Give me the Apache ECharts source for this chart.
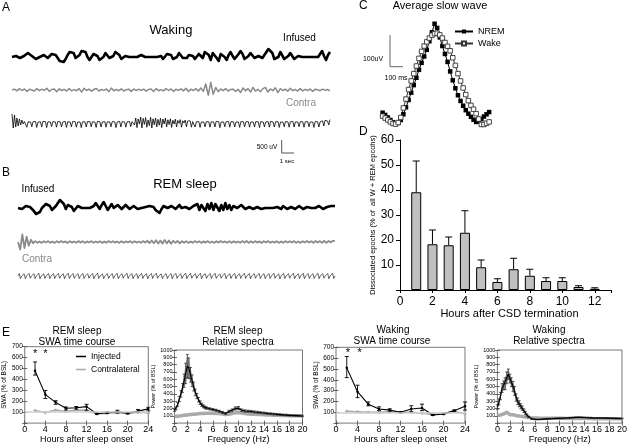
<!DOCTYPE html>
<html><head><meta charset="utf-8">
<script src="https://cdn.jsdelivr.net/npm/echarts@6/dist/echarts.min.js"></script>
<style>html,body{margin:0;padding:0;background:#fff}#c{width:630px;height:445px}</style>
</head><body><div id="c"></div>
<script>
// ---------- Panel A / B raw traces (arbitrary units) ----------
const wakeInfused = [0,0.5,1,0,-1,-1,1,3,4,3,1,-1,-2,-2,0,1,2,0,-1,1,3,4,2,-1,-4,-6,-5,-2,2,5,7,4,-1,-3,2,6,8,5,0,-3,-2,3,5,1,-3,-4,0,4,2,-1,-2,1,5,6,2,-2,-1,1,0,0,1,0,-1,0,1,2,1,0,-1,0,1,0,-1,0,2,1,-2,-1,3,5,2,-2,-3,0,4,3,-1,-3,-1,2,4,1,-2,0,3,1,-1,5,7,2,-3,4,6,-1,-4,3,5,0,-3,2,5,1,-2,0,3,6,3,-2,-4,1,4,2,-1,0,1,0,-1,2,5,8,9,4,-2,-4,0,5,3,-2,-4,1,4,2,-2,-3,1,3,0,-2,0,1,0,-1,0,1,0,3,6,1,-3,2,5];
const wakeContra = [0,0.5,-0.5,0.8,-0.3,0.6,-0.8,0.4,0,-0.6,0.8,-0.4,0.5,-0.2,1,-0.8,0.3,0.6,-1,0.7,-0.3,0.4,-0.6,0.9,-0.5,0.2,-0.4,0.8,-1.2,1,-0.3,0.5,-0.7,0.4,0.9,-0.6,0.3,-0.2,0.6,-0.9,1.1,-0.5,0.3,-0.4,0.7,-0.6,0.2,0.5,-0.8,0.6,-0.3,0.4,-0.2,0.5,-0.7,0.3,0.6,-0.9,0.8,-0.4,0.2,-0.5,0.9,-0.3,0.6,-0.8,0.4,-0.2,0.7,-0.5,1,-0.9,0.5,-0.3,0.8,-0.6,1.2,-0.8,3.5,-3,4.5,-2.5,1.5,-1,0.6,-0.4,0.8,-0.6,0.3,0.5,-0.8,0.4,-1.5,1.2,-0.5,0.8,-1.2,1.5,-0.6,0.4,-1,0.8,1.5,-1.2,0.6,-0.4,1.3,-1.5,0.8,-0.3,0.5,-0.7,1,-0.4,0.3,-0.6,0.8,-0.5,0.4,-0.3,0.6,-0.8,0.4,0.2,-0.4,0.5,-0.2,0.3,-0.5];
const wakeEmg = [4,-3,3.5,-2.5,2,-2,1.5,-1.5,1,-1,
0.2,0,-2.6,0.1,0.3,0,-2.4,0.2,0.1,0.2,-2.7,0,0.2,0.1,-2.5,0.3,0,0.2,-2.8,0.1,0.3,0,-2.3,0.2,0.1,0,-2.6,0.2,0.2,0.1,-2.5,0,0,0.3,-2.7,0.1,0.2,0,-2.4,0.2,0.1,0.2,-2.6,0,0.3,0,-2.8,0.1,0.2,0.1,-2.5,0.2,0,0.2,-2.4,0.1,0.2,0,-2.7,0.3,0.1,0.1,-2.5,0,0.3,0.2,-2.6,0.1,0,0,-2.4,0.2,0.2,0.1,-2.8,0,0.1,0.3,-2.5,0.2,0.2,0,-2.6,0.1,0,0.2,-2.3,0.2,
1.2,-1.5,2,-2.8,1.5,-1,2.5,-3,1.8,-1.2,2.2,-2.6,1,-1.8,2.4,-3,1.6,-1.4,2,-2.5,1.3,-1.6,1.8,-2.8,1.5,-1,2,-2.4,1.1,-1.3,1.6,-2.7,0.9,-1,1.4,-2.5,0.8,-0.7,1.2,-2.6,0.6,-0.5,1,-2.4,0.5,-0.4,0.6,-2.6,
0.2,0,-2.5,0.1,0.1,0.2,-2.7,0,0.3,0,-2.4,0.2,0,0.1,-2.6,0.1,0.2,0,-2.5,0.3,0.1,0.2,-2.8,0,0.2,0,-2.4,0.1,0,0.3,-2.6,0.2,0.2,0.1,-2.5,0,0.1,0,-2.7,0.2,0.3,0.1,-2.4,0.1,0,0.2,-2.6,0,0.2,0,-2.5,0.2,0.1,0.1,-2.8,0.1,0.2,0,-2.4,0,0,0.2,-2.6,0.3,0.3,0,-2.5,0.1,0.1,0.2,-2.7,0,0.2,0,-2.4,0.2,0,0.1,-2.6,0.1,0.2,0.3,-2.5,0,0.1,0,-2.3,0.2,0.3,0.1,-2.6,0.1,0,0.2,-2.4,0,0.2,0,-2.7,0.2,0.1,0.1,-2.5,0.1,0.4,0.6,-2,0.8,1,0.5,-1.5,1.2];
const remInfused = [0,1,-1,1,2,0,1,-1,-3,-6,-7,-4,0,2,4,5,2,-2,-1,2,5,8,9,4,-1,3,5,1,-3,-2,2,3,0,-1,0,1,0,-1,2,5,3,-1,3,6,2,-2,1,4,0,-2,3,4,-1,-2,3,1,-1,1,2,0,-1,1,0,-1,1,0,2,4,1,-2,-4,-5,-1,2,3,0,-2,2,3,-1,1,3,0,-1,1,0,-1,1,2,0,4,-2,3,5,-3,4,-1,5,-2,4,6,-3,3,-2,5,-1,3,-2,2,4,0,-1,3,1,-1,0,1,0,-1,0,1,0,-1,1,0,-1,0,1,0,-1,1,0,-1,2,1,-1,0,1,0,-1,1,2,0,-1,0,1,-1,0,1,0,-1,2,1,-1,0,1,0,2,1,2];
const remContra = [0,-5,5,-4,3.5,-2.5,1.5,-0.8,
0.6,-0.5,0.4,-0.6,0.5,-0.3,0.6,-0.5,0.3,-0.6,0.5,-0.4,0.6,-0.3,0.4,-0.6,0.5,-0.4,0.3,-0.5,0.6,-0.4,
0.5,-0.6,0.4,-0.3,0.6,-0.5,0.3,-0.4,0.5,-0.6,0.4,-0.5,0.6,-0.3,0.5,-0.4,0.3,-0.6,0.5,-0.5,
0.4,-0.3,0.6,-0.6,0.5,-0.4,0.3,-0.5,0.6,-0.4,0.8,-0.7,1,-0.8,1.2,-1,0.9,-1.1,1.3,-0.9,
1,-1.2,0.8,-0.6,0.7,-0.9,0.6,-0.5,0.5,-0.6,0.4,-0.5,0.6,-0.3,0.5,-0.6,0.4,-0.4,0.6,-0.5,
0.3,-0.6,0.5,-0.4,0.6,-0.3,0.4,-0.5,0.6,-0.6,0.5,-0.4,0.3,-0.5,0.6,-0.4,0.7,-0.6,0.5,-0.5,
0.6,-0.4,0.4,-0.6,0.5,-0.3,0.6,-0.5,0.3,-0.4,0.5,-0.6,0.4,-0.5,0.6,-0.3,0.5,-0.4,0.6,-0.5,
0.4,-0.6,0.5,-0.3,0.6,-0.4,0.5,-0.5,0.7,-0.4,0.6,-0.5,0.8,-0.6,0.7,-0.3,0.9,0.5];
const remEmg = [0.1,2,-2,0,0,1.8,-2.1,0.1,0.2,2.1,-1.8,0,0,1.9,-2,0.1,0.1,2.2,-2.2,0,0,1.7,-1.9,0.2,0.1,2,-2.1,0,0.2,1.9,-2,0.1,0,2.1,-1.8,0,0.1,1.8,-2.2,0.1,0,2.2,-2,0,0.2,2,-1.9,0.1,0,1.9,-2.1,0,0.1,2.1,-2,0.2,0,1.8,-1.8,0,0.1,2,-2.2,0.1,0.2,2.2,-2,0,0,1.7,-2.1,0.1,0.1,2,-1.9,0,0,1.9,-2,0.2,0.2,2.1,-2.2,0,0,1.8,-1.8,0.1,0.1,2.2,-2,0,0,2,-2.1,0.1,0.2,1.9,-1.9,0,0,2.1,-2,0.2,0.1,1.8,-2.2,0,0,2,-2,0.1,0.2,2.2,-1.8,0,0,1.7,-2.1,0.1,0.1,2,-2,0,0,1.9,-2.2,0.2,0.2,2.1,-1.9,0,0,1.8,-2,0.1,0.1,2.2,-2.1,0,0,2,-1.8,0.1,0.2,1.9,-2,0,0,2.1,-2.2,0.2,0.1,1.8,-1.9,0,0,2,-2.1,0.1,0.2,2.2,-2,0,0,1.7,-1.8,0.1,0.1,2,-2.2,0,0,1.9,-2,0.2,0.2,2.1,-2.1,0,0,1.8,-1.9,0.1,0.1,2.2,-2,0,0,2,-2.2,0.1,0.2,1.9,-1.8,0,0,2.1,-2,0.2,0.1,1.8,-2.1,0,0,2,-2,0.1,0.2,2.2,-1.9,0,0,1.7,-2.2,0.1,0.1,2,-2,0,0,1.9,-1.8,0.2,0.2,2.1,-2.1,0,0,1.8,-2,0.1,0.1,2.2,-2.2,0,0,2,-1.9,0.1,0.2,1.9,-2,0,0,2.1,-2.1,0.2,0.1,1.8,-1.8,0,0,2,-2.2,0.1,0.2,2.2,-2,0];

// ---------- Panel C: average slow wave (ms, uV) ----------
const slowT = [20,40,60,80,100,120,140,160,180,200,220,240,260,280,300,320,340,360,380,400,420,440,460,480,500,520,540,560,580,600,620,640,660,680,700,720,740,760,780,800,820,840];
const nremWave = [-135,-142,-150,-158,-165,-169,-167,-158,-140,-118,-95,-72,-48,-25,0,22,42,63,90,118,145,132,102,75,50,25,-5,-33,-58,-80,-98,-113,-127,-138,-148,-157,-164,-162,-155,-147,-140,-133];
const wakeWave = [-146,-152,-158,-164,-169,-171,-166,-150,-120,-92,-62,-35,-12,12,36,58,75,88,100,109,114,115,110,100,86,74,60,38,14,-12,-35,-57,-78,-97,-112,-124,-138,-155,-172,-172,-168,-164];

// ---------- Panel D ----------
const dHours = [1,2,3,4,5,6,7,8,9,10,11,12];
const dMeans = [39.1,18.3,17.9,22.9,9.1,3.2,8.3,5.7,3.6,3.6,1.2,0.5];
const dHi    = [51.6,24,21.2,31.7,12,4.5,12.7,8.3,4.9,4.9,1.7,0.9];
const dTicks = [0,2,4,6,8,10,12];

// ---------- Panel E: SWA time course ----------
const tcHours = [2,4,6,8,10,12,14,16,18,20,22,24];
const remInj   = [480,261,190,136,140,151,86,95,103,90,110,130];
const remInjLo = [440,225,172,120,128,118,82,88,92,85,100,112];
const remInjHi = [560,299,205,148,152,172,92,102,118,96,125,145];
const remCon   = [115,97,120,106,120,118,84,91,94,88,100,94];
const wakeInj   = [510,290,175,130,120,100,130,140,75,85,115,155];
const wakeInjLo = [420,235,160,115,110,95,105,115,70,80,108,120];
const wakeInjHi = [615,350,195,150,132,106,160,175,80,92,122,195];
const wakeCon   = [110,105,100,100,105,100,100,90,80,85,110,85];
const baseline = 100;
const remStars = [[2,635],[4,635]];
const wakeStars = [[2.2,652],[4.4,652]];

// ---------- Panel E: relative spectra ----------
const freqs = [0,0.25,0.5,0.75,1,1.25,1.5,1.75,2,2.25,2.5,2.75,3,3.25,3.5,3.75,4,4.25,4.5,4.75,5,5.5,6,6.5,7,7.5,8,8.5,9,9.5,10,10.5,11,11.5,12,12.5,13,13.5,14,14.5,15,15.5,16,16.5,17,17.5,18,18.5,19,19.5,20];
const remSpec = [175,200,255,330,400,480,580,680,780,750,660,580,500,420,370,320,280,250,230,215,205,195,185,175,162,145,132,160,175,200,205,175,165,162,158,152,148,142,138,132,128,124,120,116,112,109,106,104,102,100,98];
const remSpecErr = [15,20,25,35,45,60,90,140,160,140,100,80,60,45,35,30,25,22,20,18,16,15,15,14,14,14,14,16,18,22,22,18,16,15,15,14,14,13,13,12,12,12,11,11,10,10,10,10,10,10,10];
const remConSpec = [90,92,95,98,100,103,106,109,112,115,118,120,122,124,126,128,130,131,132,133,134,135,135,133,130,124,116,120,130,140,145,138,130,125,122,120,118,116,114,112,110,108,106,105,104,103,102,101,100,99,98];
const wakeSpec = [220,290,370,480,515,540,620,670,610,560,500,440,350,300,265,230,205,170,140,110,85,58,52,50,52,55,58,60,62,64,65,67,70,72,75,78,80,78,76,74,72,70,70,70,69,68,67,66,65,63,62];
const wakeSpecErr = [30,40,50,60,60,80,80,70,60,60,70,60,50,45,40,35,30,25,20,15,10,8,6,6,6,6,6,6,6,6,6,6,6,6,6,6,6,6,6,6,6,6,6,6,6,6,6,6,6,6,6];
const wakeConSpec = [105,108,112,118,125,140,150,130,115,112,115,110,105,100,96,93,90,87,84,81,78,74,71,69,68,67,66,66,65,65,65,65,64,64,64,63,63,63,62,62,62,61,61,61,60,60,60,60,59,59,59];

// ================= build =================
const FF = 'Liberation Sans, Arial, Helvetica, sans-serif';
const chart = echarts.init(document.getElementById('c'), null, {renderer:'canvas'});

const grids = [
  {left:12, top:46, width:318, height:22},      // 0 A infused
  {left:12, top:84, width:318, height:12},      // 1 A contra
  {left:12, top:114, width:318, height:16},     // 2 A emg
  {left:18, top:197, width:317, height:22},     // 3 B infused
  {left:18, top:233, width:317, height:18},     // 4 B contra
  {left:18, top:271, width:317, height:10},     // 5 B emg
  {left:380, top:19, width:112, height:108},    // 6 C
  {left:400, top:140, width:211, height:150},   // 7 D
  {left:20.3, top:346.7, width:128, height:78.6, show:true, borderColor:'#555', borderWidth:0.8}, // 8 E1
  {left:174.5, top:350, width:128, height:75.5, show:true, borderColor:'#555', borderWidth:0.8}, // 9 E2
  {left:336, top:347.3, width:129, height:77.8, show:true, borderColor:'#555', borderWidth:0.8}, // 10 E3
  {left:497.4, top:350, width:126, height:74.8, show:true, borderColor:'#555', borderWidth:0.8}  // 11 E4
];

const traces = [
  {d:wakeInfused, lo:-11, hi:11, c:'#000', w:2.6},
  {d:wakeContra, lo:-3.5, hi:3.5, c:'#8a8a8a', w:1.5},
  {d:wakeEmg, lo:-4, hi:4, c:'#000', w:0.8},
  {d:remInfused, lo:-11, hi:11, c:'#000', w:2.6},
  {d:remContra, lo:-6, hi:6, c:'#8a8a8a', w:1.8},
  {d:remEmg, lo:-4, hi:4, c:'#000', w:0.6}
];

const xAxis = [], yAxis = [], series = [];
traces.forEach((t,i)=>{
  xAxis.push({gridIndex:i, type:'value', min:0, max:t.d.length-1, show:false});
  yAxis.push({gridIndex:i, type:'value', min:t.lo, max:t.hi, show:false});
  series.push({type:'line', xAxisIndex:i, yAxisIndex:i, data:t.d.map((v,k)=>[k,v]), showSymbol:false, clip:false, silent:true,
    lineStyle:{color:t.c, width:t.w, join:'round'}});
});

// C
xAxis.push({gridIndex:6, type:'value', min:0, max:862, show:false});
yAxis.push({gridIndex:6, type:'value', min:-180, max:160, show:false});
series.push({name:'NREM', type:'line', xAxisIndex:6, yAxisIndex:6, data:slowT.map((t,i)=>[t,nremWave[i]]),
  symbol:'rect', symbolSize:4.5, showAllSymbol:true, lineStyle:{color:'#000', width:1}, itemStyle:{color:'#000'}, clip:false});
series.push({name:'Wake', type:'line', xAxisIndex:6, yAxisIndex:6, data:slowT.map((t,i)=>[t,wakeWave[i]]),
  symbol:'rect', symbolSize:4.5, showAllSymbol:true, lineStyle:{color:'#333', width:1}, itemStyle:{color:'#fff', borderColor:'#333', borderWidth:0.9}, clip:false});

// D
const lab = {color:'#000', fontFamily:FF};
xAxis.push({gridIndex:7, type:'value', min:0, max:13, interval:2,
  axisLine:{show:true, lineStyle:{color:'#000', width:1}}, axisTick:{show:true, length:3, lineStyle:{color:'#000'}},
  axisLabel:Object.assign({fontSize:12, margin:6, formatter:v=>dTicks.indexOf(v)>=0?String(v):''}, lab),
  splitLine:{show:false}, name:'Hours after CSD termination', nameLocation:'middle', nameGap:16,
  nameTextStyle:{fontSize:11, color:'#000', fontFamily:FF, padding:[0,0,0,8]}});
yAxis.push({gridIndex:7, type:'value', min:0, max:60, interval:10,
  axisLine:{show:true, lineStyle:{color:'#000', width:1}}, axisTick:{show:true, length:4, lineStyle:{color:'#000'}},
  axisLabel:Object.assign({fontSize:12, margin:6, formatter:v=>v===0?'':String(v)}, lab),
  splitLine:{show:false}, name:'Dissociated epochs (% of  all W + REM epcohs)', nameLocation:'middle', nameGap:21,
  nameTextStyle:{fontSize:7.5, color:'#000', fontFamily:FF, padding:[0,0,0,0]}});
series.push({type:'bar', xAxisIndex:7, yAxisIndex:7, data:dHours.map((h,i)=>[h,dMeans[i]]), barWidth:10,
  itemStyle:{color:'#c0c0c0', borderColor:'#000', borderWidth:1}, silent:true});

function errRender(capW, two, col, lw){
  return function(params, api){
    const x = api.value(0), lo = api.value(1), hi = api.value(2);
    const a = api.coord([x, lo]), b = api.coord([x, hi]);
    const st = {stroke:col, lineWidth:lw};
    const ch = [
      {type:'line', shape:{x1:a[0], y1:a[1], x2:b[0], y2:b[1]}, style:st},
      {type:'line', shape:{x1:b[0]-capW, y1:b[1], x2:b[0]+capW, y2:b[1]}, style:st}
    ];
    if (two) ch.push({type:'line', shape:{x1:a[0]-capW, y1:a[1], x2:a[0]+capW, y2:a[1]}, style:st});
    return {type:'group', children:ch};
  };
}
function bandRender(params, api){
  const a = api.coord([api.value(0), api.value(1)]);
  const b = api.coord([api.value(0), api.value(2)]);
  const c = api.coord([api.value(3), api.value(5)]);
  const d = api.coord([api.value(3), api.value(4)]);
  return {type:'polygon', shape:{points:[a,b,c,d]}, style:{fill:'#a8a8a8'}};
}
function starRender(params, api){
  const p = api.coord([api.value(0), api.value(1)]);
  return {type:'text', x:p[0], y:p[1], style:{text:'*', fontSize:11, fontFamily:FF, fill:'#000', align:'center', verticalAlign:'middle'}};
}
series.push({type:'custom', xAxisIndex:7, yAxisIndex:7, renderItem:errRender(3.5,false,'#000',1),
  data:dHours.map((h,i)=>[h,dMeans[i],dHi[i]]), encode:{x:0, y:[1,2]}, silent:true, z:1});

// E axes
const eGrids = [
  {g:8, max:24, iv:4, name:'Hours after sleep onset', gap:8, ymax:700, yname:'SWA (% of BSL)', ygap:11, yfs:6.5},
  {g:9, max:20, iv:2, name:'Frequency (Hz)', gap:8, ymax:1000, yname:'Power (% of BSL)', ygap:14, yfs:5.5},
  {g:10, max:24, iv:4, name:'Hours after sleep onset', gap:10, ymax:700, yname:'SWA (% of BSL)', ygap:16, yfs:6.5},
  {g:11, max:20, iv:2, name:'Frequency (Hz)', gap:11, ymax:1000, yname:'Power (% of BSL)', ygap:15, yfs:5.5}
];
const tick = {inside:true, length:2.5, lineStyle:{color:'#444', width:0.8}};
eGrids.forEach(e=>{
  xAxis.push({gridIndex:e.g, type:'value', min:0, max:e.max, interval:e.iv, axisLine:{show:false}, axisTick:tick,
    axisLabel:Object.assign({fontSize:9, margin:2}, lab), splitLine:{show:false},
    name:e.name, nameLocation:'middle', nameGap:e.gap, nameTextStyle:{fontSize:9, color:'#000', fontFamily:FF}});
  yAxis.push({gridIndex:e.g, type:'value', min:0, max:e.ymax, interval:100, axisLine:{show:false}, axisTick:tick,
    axisLabel:Object.assign({fontSize:e.yfs, margin:2, formatter:v=>v===0?'':String(v)}, lab), splitLine:{show:false},
    name:e.yname, nameLocation:'middle', nameGap:e.ygap, nameTextStyle:{fontSize:e.yfs, color:'#000', fontFamily:FF}});
});
eGrids.forEach(e=>{
  xAxis.push({gridIndex:e.g, type:'value', position:'top', min:0, max:e.max, interval:e.iv, axisLine:{show:false}, axisTick:tick, axisLabel:{show:false}, splitLine:{show:false}});
  yAxis.push({gridIndex:e.g, type:'value', position:'right', min:0, max:e.ymax, interval:100, axisLine:{show:false}, axisTick:tick, axisLabel:{show:false}, splitLine:{show:false}});
});

function addTimeCourse(ax, inj, lo, hi, con, stars){
  series.push({name:'Contralateral', type:'line', xAxisIndex:ax, yAxisIndex:ax, data:tcHours.map((h,i)=>[h,con[i]]),
    symbol:'circle', symbolSize:3, lineStyle:{color:'#aaa', width:1.5}, itemStyle:{color:'#aaa'}, z:2,
    markLine:{silent:true, symbol:'none', label:{show:false}, lineStyle:{color:'#cfcfcf', width:1.5, type:'solid'}, data:[{yAxis:baseline}]}});
  series.push({type:'custom', xAxisIndex:ax, yAxisIndex:ax, renderItem:errRender(2,true,'#000',0.9),
    data:tcHours.map((h,i)=>[h,lo[i],hi[i]]), encode:{x:0, y:[1,2]}, silent:true, z:3});
  series.push({name:'Injected', type:'line', xAxisIndex:ax, yAxisIndex:ax, data:tcHours.map((h,i)=>[h,inj[i]]),
    symbol:'circle', symbolSize:2.5, lineStyle:{color:'#000', width:1.1}, itemStyle:{color:'#000'}, z:4});
  series.push({type:'custom', xAxisIndex:ax, yAxisIndex:ax, renderItem:starRender, data:stars, encode:{x:0,y:1}, silent:true, z:5});
}
function addSpectra(ax, spec, err, con){
  const band = [];
  for (let i=0;i<freqs.length-1;i++) band.push([freqs[i], spec[i]-err[i], spec[i]+err[i], freqs[i+1], spec[i+1]-err[i+1], spec[i+1]+err[i+1]]);
  series.push({type:'line', xAxisIndex:ax, yAxisIndex:ax, data:freqs.map((f,i)=>[f,con[i]]), showSymbol:false,
    lineStyle:{color:'#aaa', width:3.5}, silent:true, z:2});
  series.push({type:'custom', xAxisIndex:ax, yAxisIndex:ax, renderItem:bandRender, data:band, encode:{x:[0,3], y:[1,2,4,5]}, silent:true, z:3});
  series.push({type:'custom', xAxisIndex:ax, yAxisIndex:ax, renderItem:errRender(1.5,true,'#222',0.7),
    data:freqs.map((f,i)=>[f,spec[i]-err[i],spec[i]+err[i]]), encode:{x:0, y:[1,2]}, silent:true, z:4});
  series.push({type:'line', xAxisIndex:ax, yAxisIndex:ax, data:freqs.map((f,i)=>[f,spec[i]]), showSymbol:false,
    lineStyle:{color:'#000', width:1.1}, silent:true, z:5});
}
addTimeCourse(8, remInj, remInjLo, remInjHi, remCon, remStars);
addSpectra(9, remSpec, remSpecErr, remConSpec);
addTimeCourse(10, wakeInj, wakeInjLo, wakeInjHi, wakeCon, wakeStars);
addSpectra(11, wakeSpec, wakeSpecErr, wakeConSpec);

function txt(x, y, text, size, extra){
  return {type:'text', x:x, y:y, silent:true, style:Object.assign({text:text, fontSize:size, fontFamily:FF, fill:'#000', align:'center', verticalAlign:'middle'}, extra||{})};
}
const graphic = [
  txt(2,8,'A',12,{align:'left'}),
  txt(171,30,'Waking',13),
  txt(299.5,38,'Infused',10),
  txt(301,103,'Contra',10,{fill:'#888'}),
  txt(267,147,'500 uV',6.5),
  txt(287,161,'1 sec',6),
  {type:'polyline', silent:true, shape:{points:[[281.7,140],[281.7,153],[294,153]]}, style:{stroke:'#555', lineWidth:1, fill:null}},
  txt(2,173,'B',12,{align:'left'}),
  txt(185,184,'REM sleep',13),
  txt(38,189,'Infused',10),
  txt(37,259,'Contra',10,{fill:'#888'}),
  txt(359,6,'C',12,{align:'left'}),
  txt(440,6,'Average slow wave',11),
  txt(373,59,'100uV',7),
  txt(396,78,'100 ms',7),
  {type:'polyline', silent:true, shape:{points:[[390,35],[390,66.7],[403,66.7]]}, style:{stroke:'#666', lineWidth:1, fill:null}},
  txt(359,132,'D',12,{align:'left'}),
  txt(2,333,'E',12,{align:'left'}),
  txt(77,331,'REM sleep',10), txt(77,342,'SWA time course',10),
  txt(238,331,'REM sleep',10), txt(238,342,'Relative spectra',10),
  txt(393,330,'Waking',10), txt(392,341,'SWA time course',10),
  txt(549,330,'Waking',10), txt(549,341,'Relative spectra',10)
];

chart.setOption({
  animation:false,
  backgroundColor:'#fff',
  textStyle:{fontFamily:FF},
  grid:grids, xAxis:xAxis, yAxis:yAxis, series:series, graphic:graphic,
  legend:[
    {data:['NREM','Wake'], left:454, top:27, orient:'vertical', itemWidth:18, itemHeight:5, itemGap:3, padding:0,
      textStyle:{fontSize:9, color:'#000', fontFamily:FF}, selectedMode:false},
    {data:['Injected','Contralateral'], left:76, top:352, orient:'vertical', icon:'rect', itemWidth:10, itemHeight:1.5, itemGap:4, padding:0,
      textStyle:{fontSize:8.5, color:'#000', fontFamily:FF}, selectedMode:false}
  ]
});
</script></body></html>
